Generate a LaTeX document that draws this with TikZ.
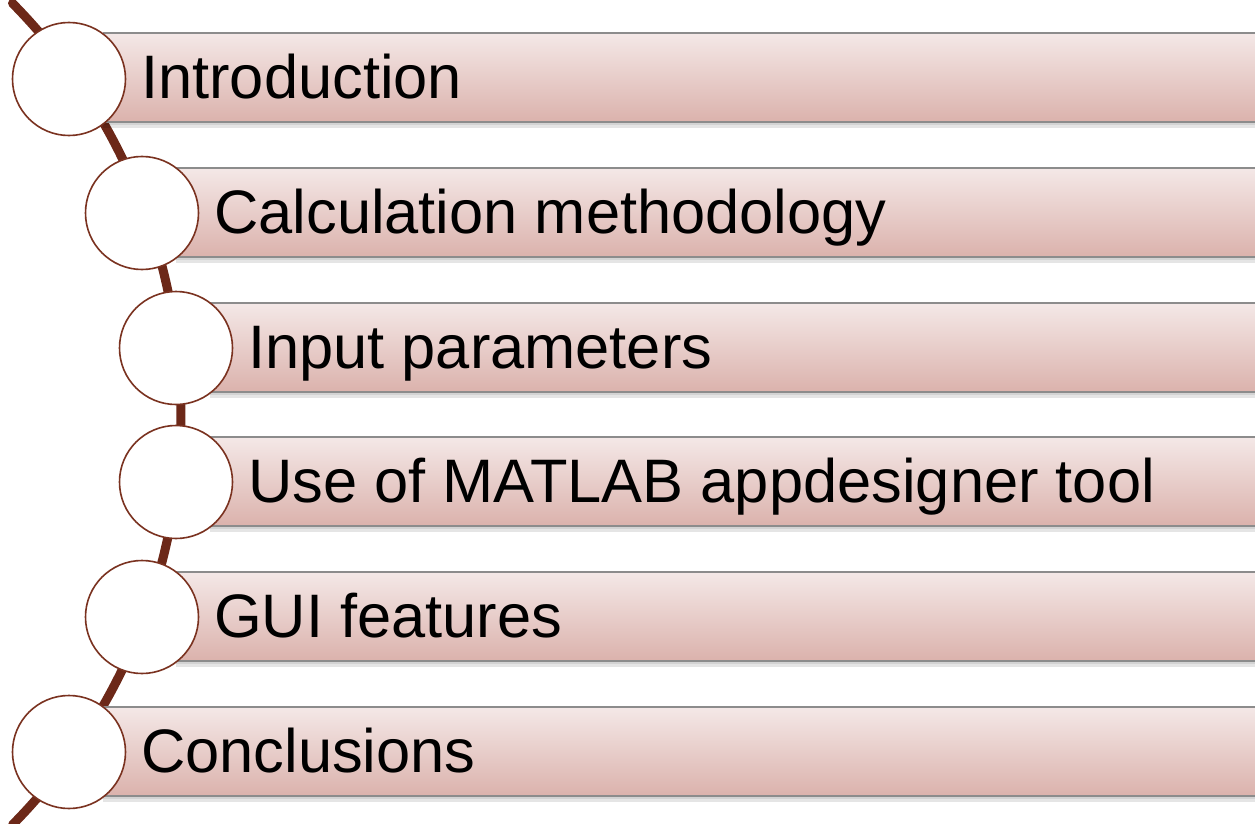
\documentclass[tikz,border=0pt]{standalone}
\usepackage{fontspec}
\setmainfont{Liberation Sans}
\usetikzlibrary{calc}
\definecolor{arcbrown}{RGB}{108,40,24}
\definecolor{ringbrown}{RGB}{122,50,32}
\definecolor{bartop}{RGB}{244,232,231}
\definecolor{barbot}{RGB}{219,178,172}
\definecolor{barline}{RGB}{140,140,140}
\tikzset{
  ring/.style={circle,draw=ringbrown,line width=1.6pt,fill=white,minimum size=113pt,inner sep=0pt},
  bartext/.style={anchor=base west,inner sep=0pt,font=\fontsize{61.4}{70}\selectfont},
}
\newcommand{\stepbar}[2]{% #1 cx, #2 cy
  \fill[black,opacity=0.10] (#1+34,#2+44) rectangle (1256,#2+50);
  \fill[black,opacity=0.08] (#1+34,#2+44) rectangle (1256,#2+47);
  \shade[top color=bartop,bottom color=barbot] (#1+34,#2-45) rectangle (1256,#2+44);
  \draw[barline,line width=2pt] (#1+34,#2-45) -- (1256,#2-45);
  \draw[barline,line width=1.6pt] (#1+34,#2+44) -- (1256,#2+44);
}
\begin{document}
\begin{tikzpicture}[x=1pt,y=-1pt]
\useasboundingbox (0,0) rectangle (1255,824);
% backbone arc
\coordinate (arcC) at (-404,414);
\draw[arcbrown,line width=9pt,line cap=round] (arcC) ++(-44.6:585) arc[start angle=-44.6,end angle=44.6,radius=585];
% bars
\stepbar{69}{78}
\stepbar{142}{213}
\stepbar{176}{348}
\stepbar{176}{482}
\stepbar{142}{617}
\stepbar{69}{752}
% rings
\node[ring] (c1) at (69,79) {};
\node[ring] (c2) at (142,213) {};
\node[ring] (c3) at (176,348) {};
\node[ring] (c4) at (176,482) {};
\node[ring] (c5) at (142,617) {};
\node[ring] (c6) at (69,752) {};
% texts
\node[bartext] (t1) at (141,99) {Introduction};
\node[bartext] (t2) at (214,233) {Calculation methodology};
\node[bartext] (t3) at (248,368) {Input parameters};
\node[bartext] (t4) at (248,502) {Use of MATLAB appdesigner tool};
\node[bartext] (t5) at (214,637) {GUI features};
\node[bartext] (t6) at (141,772) {Conclusions};
\end{tikzpicture}
\end{document}
